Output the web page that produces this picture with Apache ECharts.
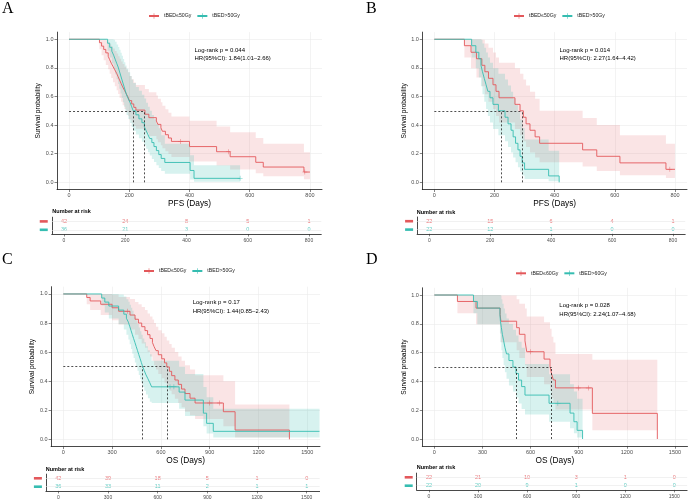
<!DOCTYPE html>
<html><head><meta charset="utf-8">
<script src="https://cdn.jsdelivr.net/npm/echarts@6/dist/echarts.min.js"></script>
<style>html,body{margin:0;padding:0;background:#fff}#c{width:690px;height:501px}</style>
</head><body><div id="c"></div>
<script>
// ---------- tick labels ----------
const pfsTicks = [0, 200, 400, 600, 800];
const osTicks = [0, 300, 600, 900, 1200, 1500];
const survTicks = [0, 0.2, 0.4, 0.6, 0.8, 1.0];

// ---------- Panel A (PFS, tBED 50Gy) ----------
const aRedT  = [0,101,108,115,122,130,135,140,146,152,158,163,168,173,178,184,190,196,200,208,215,222,252,265,290,295,305,310,320,330,340,400,490,535,620,645,780,800];
const aRedS  = [1,.976,.952,.929,.905,.881,.857,.833,.810,.786,.762,.738,.714,.690,.667,.643,.619,.595,.571,.548,.524,.505,.476,.452,.429,.405,.381,.357,.333,.310,.286,.250,.214,.179,.140,.107,.072,.072];
const aRedLo = [1,.931,.888,.854,.82,.79,.759,.729,.70,.672,.643,.617,.59,.563,.538,.512,.489,.465,.44,.417,.394,.374,.346,.324,.302,.28,.26,.239,.218,.198,.178,.145,.117,.09,.063,.042,.022,.022];
const aRedHi = [1,1,1,1,.995,.98,.965,.95,.935,.918,.90,.882,.864,.845,.827,.807,.788,.769,.744,.721,.698,.68,.652,.63,.607,.584,.56,.536,.51,.486,.46,.43,.39,.35,.31,.27,.21,.21];
const aRedCens = [[370,.286],[530,.214],[783,.072]];
const aCyanT  = [0,128,135,142,148,153,158,163,167,171,175,179,183,187,191,197,203,208,213,222,232,242,250,256,262,268,275,282,290,298,306,318,402,415,568];
const aCyanS  = [1,.972,.944,.917,.889,.861,.833,.806,.778,.75,.722,.694,.667,.639,.611,.583,.556,.528,.5,.472,.444,.417,.389,.361,.333,.306,.278,.25,.222,.194,.167,.139,.083,.028,.028];
const aCyanLo = [1,.92,.872,.831,.792,.755,.72,.687,.654,.621,.589,.559,.529,.5,.471,.443,.415,.387,.36,.334,.308,.283,.258,.234,.21,.187,.164,.142,.12,.10,.08,.06,.02,.004,.004];
const aCyanHi = [1,1,1,1,.997,.982,.964,.946,.926,.906,.884,.862,.84,.817,.793,.769,.744,.719,.694,.667,.64,.613,.586,.557,.529,.50,.47,.441,.41,.378,.33,.27,.19,.12,.12];
const aCyanCens = [[568,.028]];
const aRiskRed = [42,24,8,5,1];
const aRiskCyan = [36,21,3,0,0];
const aMed = [250,214];
const aStats = ['Log-rank p = 0.044','HR(95%CI): 1.84(1.01–2.66)'];

// ---------- Panel B ----------
const bRedT  = [0,100,122,140,158,168,180,195,205,215,268,285,296,305,318,335,350,493,540,617,770,800];
const bRedS  = [1,.955,.909,.864,.818,.773,.727,.682,.636,.591,.545,.5,.455,.409,.364,.318,.273,.227,.182,.136,.091,.091];
const bRedLo = [1,.873,.797,.732,.672,.616,.563,.513,.464,.418,.372,.329,.288,.247,.209,.173,.14,.11,.08,.05,.03,.03];
const bRedHi = [1,1,1,1,.996,.97,.94,.907,.872,.836,.798,.759,.719,.676,.633,.585,.50,.45,.40,.33,.27,.27];
const bRedCens = [[783,.091]];
const bCyanT  = [0,124,138,148,155,160,166,172,178,185,195,213,235,245,255,262,270,278,285,292,300,380,415];
const bCyanS  = [1,.955,.909,.864,.818,.773,.727,.682,.636,.591,.545,.5,.455,.409,.364,.318,.273,.227,.182,.136,.091,.045,0];
const bCyanLo = [1,.873,.797,.732,.672,.616,.563,.513,.464,.418,.372,.329,.288,.247,.209,.173,.14,.105,.075,.048,.024,.007,0];
const bCyanHi = [1,1,1,1,.996,.97,.94,.907,.872,.836,.798,.759,.719,.676,.633,.585,.54,.49,.44,.38,.30,.22,0];
const bCyanCens = [];
const bRiskRed = [22,15,6,4,1];
const bRiskCyan = [22,12,1,0,0];
const bMed = [292,224];
const bStats = ['Log-rank p = 0.014','HR(95%CI): 2.27(1.64–4.42)'];

// ---------- Panel C (OS, 50Gy) ----------
const cRedT  = [0,144,165,230,300,340,410,441,462,482,502,518,533,548,558,570,584,605,622,636,652,666,686,707,727,748,779,810,984,1056,1390];
const cRedS  = [1,.976,.952,.929,.905,.881,.855,.826,.80,.775,.748,.72,.694,.666,.638,.61,.582,.554,.526,.498,.468,.438,.408,.378,.346,.315,.283,.25,.19,.064,0];
const cRedLo = [1,.93,.89,.855,.82,.79,.755,.72,.69,.66,.63,.60,.57,.54,.51,.48,.45,.42,.39,.365,.335,.31,.28,.25,.22,.19,.165,.14,.09,.012,0];
const cRedHi = [1,1,1,1,.995,.98,.965,.945,.93,.91,.89,.865,.845,.825,.80,.775,.75,.73,.705,.68,.655,.63,.60,.57,.54,.51,.48,.44,.40,.24,0];
const cRedCens = [[395,.881],[900,.25],[960,.25]];
const cCyanT  = [0,236,255,280,340,372,388,400,408,416,424,432,440,448,456,464,472,480,488,498,508,520,532,543,712,748,861,881,922,1575];
const cCyanS  = [1,.972,.944,.917,.889,.861,.833,.806,.778,.75,.722,.694,.667,.639,.611,.583,.556,.528,.5,.472,.444,.417,.389,.361,.325,.27,.18,.11,.055,.055];
const cCyanLo = [1,.92,.872,.831,.792,.755,.72,.687,.654,.621,.589,.559,.529,.5,.471,.443,.415,.387,.36,.334,.308,.283,.258,.25,.21,.16,.09,.04,.012,.012];
const cCyanHi = [1,1,1,1,.997,.982,.964,.946,.926,.906,.884,.862,.84,.817,.793,.769,.744,.719,.694,.667,.64,.613,.586,.54,.50,.45,.36,.29,.21,.21];
const cCyanCens = [[656,.361],[680,.361]];
const cRiskRed = [42,39,18,5,1,0];
const cRiskCyan = [36,33,11,2,1,1];
const cMed = [636,488];
const cStats = ['Log-rank p = 0.17','HR(95%CI): 1.44(0.85–2.43)'];

// ---------- Panel D (OS, 60Gy) ----------
const dRedT  = [0,144,260,410,415,513,530,565,576,684,721,731,742,755,985,1390];
const dRedS  = [1,.955,.909,.864,.818,.773,.727,.682,.606,.555,.505,.45,.41,.355,.178,0];
const dRedLo = [1,.873,.797,.732,.672,.616,.563,.513,.43,.38,.335,.285,.25,.205,.06,0];
const dRedHi = [1,1,1,1,.996,.97,.94,.907,.85,.81,.765,.71,.67,.59,.55,0];
const dRedCens = [[600,.606],[897,.355],[960,.355]];
const dCyanT  = [0,244,268,409,412,418,424,432,440,450,465,490,509,525,544,565,715,846,870,890,924];
const dCyanS  = [1,.955,.909,.864,.818,.773,.727,.682,.636,.591,.545,.5,.455,.409,.364,.305,.248,.18,.12,.06,0];
const dCyanLo = [1,.873,.797,.732,.672,.616,.563,.513,.464,.418,.372,.329,.288,.247,.209,.17,.12,.075,.04,.01,0];
const dCyanHi = [1,1,1,1,.996,.97,.94,.907,.872,.836,.798,.759,.719,.676,.633,.52,.45,.38,.33,.28,0];
const dCyanCens = [[770,.248]];
const dRiskRed = [22,21,10,3,1,0];
const dRiskCyan = [22,20,9,1,0,0];
const dMed = [731,509];
const dStats = ['Log-rank p = 0.028','HR(95%CI): 2.24(1.07–4.68)'];

// ---------- styling / layout ----------
const RED = '#E3585B', CYAN = '#36BDB1';
const RED_BAND = 'rgba(227,88,91,0.16)', CYAN_BAND = 'rgba(54,189,177,0.2)';
const PLUS = 'path://M4.5,0h1v10h-1z M0,4.5h10v1h-10z';
const FONT = '"Liberation Sans", Arial, sans-serif';

const panels = [
  {letter:'A', xr:[-40,840], ticks:pfsTicks, xname:'PFS (Days)', labels:['tBED≤50Gy','tBED>50Gy'],
   curves:[{t:aRedT,s:aRedS,lo:aRedLo,hi:aRedHi,cens:aRedCens},{t:aCyanT,s:aCyanS,lo:aCyanLo,hi:aCyanHi,cens:aCyanCens}],
   risk:[aRiskRed,aRiskCyan], med:aMed, stats:aStats,
   L:{plot:{left:57,top:32.1,width:265,height:157.4}, table:{left:51.75,top:217.2,width:269.5,height:16.8},
      letter:[2,0.5], legend:[148,13.2], stats:[194.5,50,58.5], nar:[52.3,211.7]}},
  {letter:'B', xr:[-40,840], ticks:pfsTicks, xname:'PFS (Days)', labels:['tBED≤50Gy','tBED>50Gy'],
   curves:[{t:bRedT,s:bRedS,lo:bRedLo,hi:bRedHi,cens:bRedCens},{t:bCyanT,s:bCyanS,lo:bCyanLo,hi:bCyanHi,cens:bCyanCens}],
   risk:[bRiskRed,bRiskCyan], med:bMed, stats:bStats,
   L:{plot:{left:422.3,top:32.1,width:264.7,height:157.4}, table:{left:417.1,top:217.0,width:268.1,height:16.8},
      letter:[366,0.5], legend:[513,13.2], stats:[559.5,50,58.5], nar:[416.7,212]}},
  {letter:'C', xr:[-75,1578], ticks:osTicks, xname:'OS (Days)', labels:['tBED≤50Gy','tBED>50Gy'],
   curves:[{t:cRedT,s:cRedS,lo:cRedLo,hi:cRedHi,cens:cRedCens},{t:cCyanT,s:cCyanS,lo:cCyanLo,hi:cCyanHi,cens:cCyanCens}],
   risk:[cRiskRed,cRiskCyan], med:cMed, stats:cStats,
   L:{plot:{left:51.1,top:286.7,width:268.9,height:159.9}, table:{left:45.9,top:474.1,width:273.7,height:16.8},
      letter:[2,251.5], legend:[143,268.2], stats:[192.7,302.5,311.2], nar:[45.7,469]}},
  {letter:'D', xr:[-75,1578], ticks:osTicks, xname:'OS (Days)', labels:['tBED≤60Gy','tBED>60Gy'],
   curves:[{t:dRedT,s:dRedS,lo:dRedLo,hi:dRedHi,cens:dRedCens},{t:dCyanT,s:dCyanS,lo:dCyanLo,hi:dCyanHi,cens:dCyanCens}],
   risk:[dRiskRed,dRiskCyan], med:dMed, stats:dStats,
   L:{plot:{left:422.3,top:287.8,width:265.2,height:158.4}, table:{left:416.7,top:473.1,width:270.4,height:16.8},
      letter:[366,251.5], legend:[515,270.5], stats:[559.3,305,314], nar:[416.7,467.7]}}
];

const grid = [], xAxis = [], yAxis = [], series = [], legend = [], graphic = [];
const colors = [RED, CYAN], bands = [RED_BAND, CYAN_BAND], rows = ['r','c'];
const plainNum = v => String(Math.round(v));

panels.forEach((P, i) => {
  const gp = 2*i, gt = 2*i+1;
  grid.push(Object.assign({containLabel:false}, P.L.plot));
  grid.push(Object.assign({containLabel:false}, P.L.table));
  const axLine = {show:true, onZero:false, lineStyle:{color:'#1a1a1a', width:0.8}};
  const axTick = (vals) => ({show:true, length:2.5, lineStyle:{color:'#333', width:0.6}, customValues:vals});
  xAxis.push({gridIndex:gp, type:'value', min:P.xr[0], max:P.xr[1],
    axisLine:axLine, axisTick:axTick(P.ticks),
    axisLabel:{customValues:P.ticks, formatter:plainNum, fontSize:5.5, color:'#4d4d4d', margin:3},
    splitLine:{show:true, lineStyle:{color:'#ebebeb', width:0.6}},
    name:P.xname, nameLocation:'middle', nameGap:10.3, nameTextStyle:{fontSize:8.3, color:'#000'}});
  yAxis.push({gridIndex:gp, type:'value', min:-0.05, max:1.05,
    axisLine:axLine, axisTick:axTick(survTicks),
    axisLabel:{customValues:survTicks, formatter:v => Number(v).toFixed(1), fontSize:5.5, color:'#4d4d4d', margin:3.5},
    splitLine:{show:true, lineStyle:{color:'#ebebeb', width:0.6}},
    name:'Survival probability', nameLocation:'middle', nameGap:11, nameTextStyle:{fontSize:6.6, color:'#000'}});
  xAxis.push({gridIndex:gt, type:'value', min:P.xr[0], max:P.xr[1],
    axisLine:axLine, axisTick:axTick(P.ticks),
    axisLabel:{customValues:P.ticks, formatter:plainNum, fontSize:5, color:'#4d4d4d', margin:4},
    splitLine:{show:false}});
  yAxis.push({gridIndex:gt, type:'category', inverse:true, data:rows,
    axisLine:axLine, axisTick:{show:false},
    axisLabel:{interval:0, hideOverlap:false, margin:4, formatter:v => v === 'r' ? '{r| }' : '{c| }',
      rich:{r:{width:8, height:2.6, backgroundColor:RED, fontSize:1, lineHeight:2.6},
            c:{width:8, height:2.6, backgroundColor:CYAN, fontSize:1, lineHeight:2.6}}},
    splitLine:{show:false}});

  // confidence bands (step polygons built from the lo/hi arrays through the axes)
  P.curves.forEach((C, g) => {
    series.push({type:'custom', xAxisIndex:gp, yAxisIndex:gp, silent:true, z:1, clip:true,
      data:C.t.map((t,k)=>[t, C.lo[k], C.hi[k]]),
      encode:{x:0, y:[1,2]},
      renderItem:(params, api) => {
        if (params.dataIndex !== 0) return null;
        const n = C.t.length, pts = [];
        for (let k = 0; k < n; k++) {
          const x1 = k < n-1 ? C.t[k+1] : C.t[k];
          pts.push(api.coord([C.t[k], C.hi[k]]), api.coord([x1, C.hi[k]]));
        }
        for (let k = n-1; k >= 0; k--) {
          const x1 = k < n-1 ? C.t[k+1] : C.t[k];
          pts.push(api.coord([x1, C.lo[k]]), api.coord([C.t[k], C.lo[k]]));
        }
        return {type:'polygon', shape:{points:pts}, style:{fill:bands[g]}};
      }});
  });
  P.curves.forEach((C, g) => {
    const s = {type:'line', name:P.labels[g], xAxisIndex:gp, yAxisIndex:gp, data:C.t.map((t,k)=>[t, C.s[k]]),
      step:'end', symbol:PLUS, symbolSize:6, showSymbol:false, color:colors[g],
      lineStyle:{color:colors[g], width:0.9}, itemStyle:{color:colors[g]}, silent:true, z:3};
    if (g === 1) {
      const mMax = Math.max(...P.med);
      s.markLine = {silent:true, symbol:['none','none'], label:{show:false}, animation:false,
        lineStyle:{color:'#222', type:[2,2], width:0.8},
        data:[[{coord:[0,0.5]},{coord:[mMax,0.5]}],
              [{coord:[P.med[0],0]},{coord:[P.med[0],0.5]}],
              [{coord:[P.med[1],0]},{coord:[P.med[1],0.5]}]]};
    }
    series.push(s);
    series.push({type:'scatter', name:'censor', xAxisIndex:gp, yAxisIndex:gp, data:C.cens,
      symbol:PLUS, symbolSize:5, itemStyle:{color:colors[g]}, silent:true, z:4});
  });
  rows.forEach((row, g) => {
    series.push({type:'scatter', name:'risk', xAxisIndex:gt, yAxisIndex:gt,
      data:P.ticks.map((t,k)=>[t, row, P.risk[g][k]]),
      symbolSize:1, itemStyle:{color:'rgba(0,0,0,0)'}, silent:true, z:3,
      label:{show:true, position:'inside', formatter:p => String(p.value[2]), color:colors[g], fontSize:5.5},
      markLine:{silent:true, symbol:['none','none'], label:{show:false}, animation:false,
        lineStyle:{color:'#e8e8e8', type:'solid', width:0.6}, data:[{yAxis:row}]}});
  });

  legend.push({data:P.labels, left:P.L.legend[0], top:P.L.legend[1], itemWidth:10, itemHeight:7, itemGap:5,
    padding:0, selectedMode:false, textStyle:{fontSize:5.2, color:'#222'}});

  graphic.push({type:'text', x:P.L.letter[0], y:P.L.letter[1],
    style:{text:P.letter, font:'16px "Liberation Serif", "Times New Roman", serif', fill:'#000', verticalAlign:'top'}});
  graphic.push({type:'text', x:P.L.stats[0], y:P.L.stats[1],
    style:{text:P.stats[0], font:'6px ' + FONT, fill:'#000', verticalAlign:'middle'}});
  graphic.push({type:'text', x:P.L.stats[0], y:P.L.stats[2],
    style:{text:P.stats[1], font:'6px ' + FONT, fill:'#000', verticalAlign:'middle'}});
  graphic.push({type:'text', x:P.L.nar[0], y:P.L.nar[1],
    style:{text:'Number at risk', font:'bold 5.5px ' + FONT, fill:'#000', verticalAlign:'middle'}});
});

const chart = echarts.init(document.getElementById('c'), null, {renderer:'canvas'});
chart.setOption({
  animation:false, backgroundColor:'#fff',
  textStyle:{fontFamily:FONT},
  grid, xAxis, yAxis, series, legend, graphic
});
</script></body></html>
